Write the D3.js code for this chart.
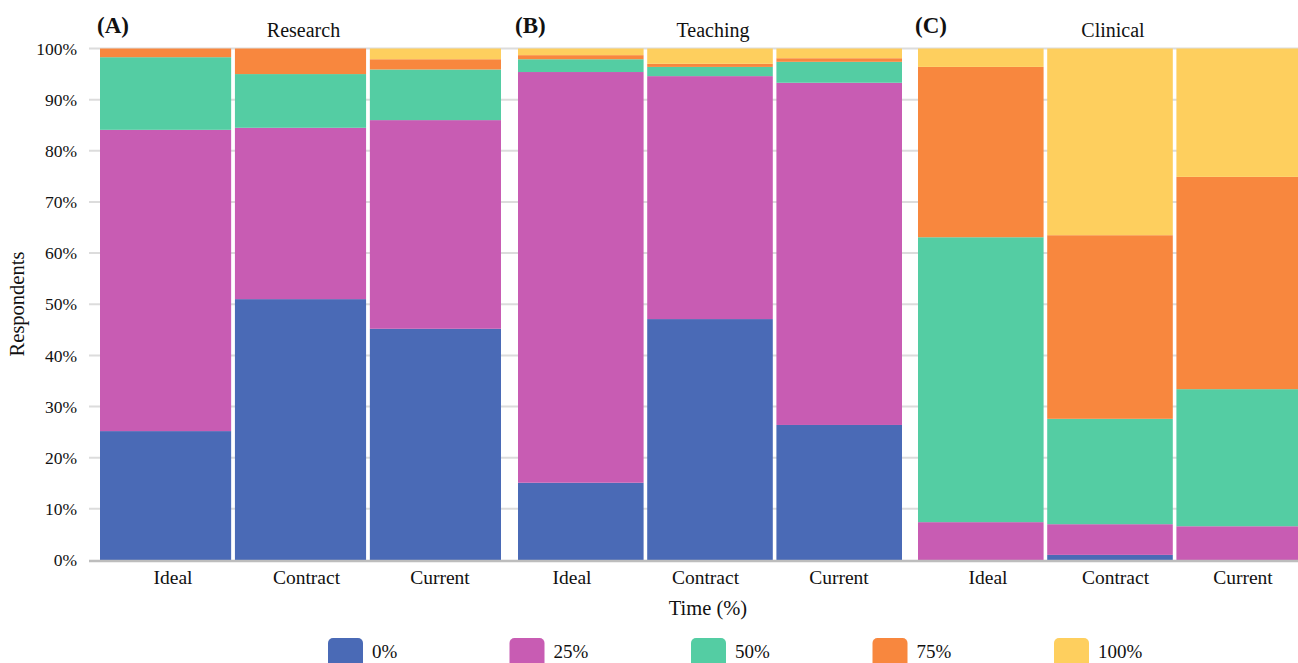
<!DOCTYPE html>
<html><head><meta charset="utf-8">
<script src="https://cdn.jsdelivr.net/npm/d3@7"></script>
<style>body{margin:0;background:#fff}svg{display:block}text{font-family:"Liberation Serif","Times New Roman",serif;fill:#111}</style>
</head><body><svg id="c" width="1298" height="663"></svg>
<script>
const panels = ["Research", "Teaching", "Clinical"];
const panelTags = ["(A)", "(B)", "(C)"];
const categories = ["Ideal", "Contract", "Current"];
const seriesNames = ["0%", "25%", "50%", "75%", "100%"];
const colors = ["#4a6ab6", "#c85cb3", "#54cda3", "#f8873e", "#fecf5e"];
const yTicks = [0, 10, 20, 30, 40, 50, 60, 70, 80, 90, 100];
// values[panel][category] = shares for 0%,25%,50%,75%,100%
const research = [
  [25.2, 58.9, 14.2, 1.7, 0.0],
  [51.0, 33.5, 10.5, 5.0, 0.0],
  [45.2, 40.8, 9.9, 2.0, 2.1]
];
const teaching = [
  [15.1, 80.3, 2.5, 0.8, 1.3],
  [47.1, 47.5, 1.8, 0.6, 3.0],
  [26.4, 66.9, 4.1, 0.7, 1.9]
];
const clinical = [
  [0.0, 7.4, 55.7, 33.3, 3.6],
  [1.0, 6.0, 20.6, 35.9, 36.5],
  [0.0, 6.6, 26.8, 41.5, 25.1]
];
const panelData = [research, teaching, clinical];

const svg = d3.select("#c");
const y = d3.scaleLinear().domain([0, 100]).range([560, 48.5]);
const panelRanges = [[100, 501], [518, 902], [918, 1302]];
const labelRanges = [[173, 440], [572, 839], [988, 1243]];
const gridX = [89, 1298];

// gridlines
svg.append("g").selectAll("line").data(yTicks.filter(d => d > 0)).join("line")
  .attr("x1", gridX[0]).attr("x2", gridX[1])
  .attr("y1", d => y(d)).attr("y2", d => y(d))
  .attr("stroke", "#dcdcdc").attr("stroke-width", 2);

// y tick labels
svg.append("g").selectAll("text").data(yTicks).join("text")
  .attr("x", 77).attr("y", d => y(d)).attr("dy", "0.35em")
  .attr("text-anchor", "end").style("font-size", "17.5px")
  .text(d => d + "%");

panels.forEach((p, pi) => {
  const x = d3.scaleBand().domain(categories).range(panelRanges[pi]).paddingInner(0.028);
  const xl = d3.scalePoint().domain(categories).range(labelRanges[pi]);
  const rows = panelData[pi].map((vals, ci) => {
    const o = { cat: categories[ci] };
    seriesNames.forEach((s, si) => o[s] = vals[si]);
    return o;
  });
  const stacked = d3.stack().keys(seriesNames)(rows);
  const g = svg.append("g");
  g.selectAll("g").data(stacked).join("g")
    .attr("fill", (d, i) => colors[i])
    .selectAll("rect").data(d => d).join("rect")
    .attr("x", d => x(d.data.cat))
    .attr("width", x.bandwidth())
    .attr("y", d => y(d[1]))
    .attr("height", d => Math.max(0, y(d[0]) - y(d[1])));
  // x labels
  g.selectAll("text.xl").data(categories).join("text")
    .attr("class", "xl")
    .attr("x", d => xl(d)).attr("y", 584)
    .attr("text-anchor", "middle").style("font-size", "19.5px").text(d => d);
  const r = panelRanges[pi];
  const cx = (r[0] + r[1]) / 2;
  svg.append("text").attr("x", cx + 3).attr("y", 37).attr("text-anchor", "middle")
    .style("font-size", "20px").text(p);
  svg.append("text").attr("x", r[0] - 3).attr("y", 33)
    .style("font-size", "23px").style("font-weight", "bold").text(panelTags[pi]);
});

// baseline
svg.append("line").attr("x1", gridX[0]).attr("x2", gridX[1])
  .attr("y1", y(0) + 1).attr("y2", y(0) + 1)
  .attr("stroke", "#bdbdbd").attr("stroke-width", 2.5);

// axis titles
svg.append("text").attr("x", 708).attr("y", 615).attr("text-anchor", "middle")
  .style("font-size", "20.5px").text("Time (%)");
svg.append("text").attr("transform", "translate(24,304) rotate(-90)")
  .attr("text-anchor", "middle").style("font-size", "20.5px").text("Respondents");

// legend
const lg = svg.append("g").selectAll("g").data(seriesNames).join("g")
  .attr("transform", (d, i) => `translate(${328 + i * 181.5},638)`);
lg.append("rect").attr("width", 35).attr("height", 30).attr("rx", 5)
  .attr("fill", (d, i) => colors[i]);
lg.append("text").attr("x", 44).attr("y", 20).style("font-size", "19px").text(d => d);
</script></body></html>
